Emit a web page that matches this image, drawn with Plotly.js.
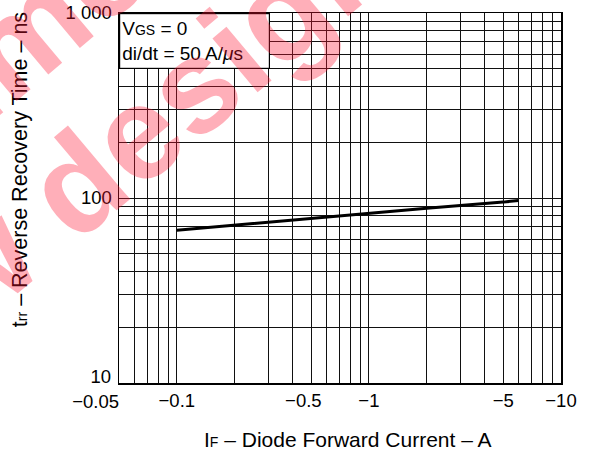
<!DOCTYPE html>
<html>
<head>
<meta charset="utf-8">
<script src="https://cdn.plot.ly/plotly-3.0.1.min.js"></script>
<style>html,body{margin:0;padding:0;background:#fff}#chart{width:589px;height:455px}</style>
</head>
<body>
<div id="chart"></div>
<script>
// Diode forward current (A) and reverse recovery time (ns)
const currentA = [-0.1, -0.2, -0.5, -1, -2, -5, -6];
const trrNs = [67, 71.5, 77.5, 82.5, 88, 95, 97];

// Axis grid values and tick labels
const xGridVals = [0.05,0.06,0.07,0.08,0.09,0.1,0.2,0.3,0.4,0.5,0.6,0.7,0.8,0.9,1,2,3,4,5,6,7,8,9,10];
const xTickLabels = {0.1:'\u22120.1', 0.5:'\u22120.5' + '\u00a0'.repeat(3), 1:'\u22121', 5:'\u22125', 10:'\u221210'};
const xFirstTickVal = [0.05];
const xFirstTickLabel = ['\u22120.05'];
const yGridVals = [10,20,30,40,50,60,70,80,90,100,200,300,400,500,600,700,800,900,1000];
const yTickLabels = {100:'100', 1000:'1 000'};
const yFirstTickVal = [10];
const yFirstTickLabel = ['10'];

const FONT = 'Liberation Sans, Arial, Helvetica, sans-serif';
const TICKFONT = {family: FONT, size: 18.5, color: '#000'};
const XRANGE = [Math.log10(0.05), 1];
const YRANGE = [1, 3];

const trace = {
  x: currentA.map(Math.abs),
  y: trrNs,
  type: 'scatter',
  mode: 'lines',
  line: {color: '#000', width: 3},
  hoverinfo: 'skip'
};
// empty trace so the overlaid label axes are drawn
const axisHolder = {x: [], y: [], xaxis: 'x2', yaxis: 'y2', type: 'scatter', mode: 'lines', hoverinfo: 'skip', showlegend: false};

const wmColor = 'rgba(255,20,50,0.34)';
const layout = {
  width: 589, height: 455,
  margin: {l: 119, r: 28, t: 13, b: 72, pad: 0},
  paper_bgcolor: '#fff', plot_bgcolor: '#fff',
  showlegend: false,
  font: {family: FONT, size: 18, color: '#000'},
  xaxis: {
    type: 'log', range: XRANGE,
    tickmode: 'array', tickvals: xGridVals,
    ticktext: xGridVals.map(v => xTickLabels[v] || ''),
    tickangle: 0, ticklabeloverflow: 'allow',
    showgrid: true, gridcolor: '#111', gridwidth: 1,
    showline: true, linecolor: '#000', linewidth: 1.5, mirror: true,
    ticks: '', ticklabelstandoff: 0,
    tickfont: TICKFONT,
    zeroline: false, fixedrange: true
  },
  xaxis2: {
    type: 'log', range: XRANGE, overlaying: 'x', anchor: 'y', side: 'bottom',
    tickmode: 'array', tickvals: xFirstTickVal, ticktext: xFirstTickLabel,
    ticklabelposition: 'outside left', tickangle: 0, ticklabeloverflow: 'allow',
    showgrid: false, showline: false, ticks: '', ticklabelstandoff: 5,
    tickfont: TICKFONT, zeroline: false, fixedrange: true
  },
  yaxis: {
    type: 'log', range: YRANGE,
    tickmode: 'array', tickvals: yGridVals,
    ticktext: yGridVals.map(v => yTickLabels[v] || ''),
    showgrid: true, gridcolor: '#111', gridwidth: 1,
    showline: true, linecolor: '#000', linewidth: 1.5, mirror: true,
    ticks: '', ticklabelstandoff: 2,
    tickfont: TICKFONT,
    zeroline: false, fixedrange: true
  },
  yaxis2: {
    type: 'log', range: YRANGE, overlaying: 'y', anchor: 'x', side: 'left',
    tickmode: 'array', tickvals: yFirstTickVal, ticktext: yFirstTickLabel,
    ticklabelposition: 'outside top', ticklabeloverflow: 'allow', ticklabelshift: 6,
    showgrid: false, showline: false, ticks: '', ticklabelstandoff: 7,
    tickfont: TICKFONT, zeroline: false, fixedrange: true
  },
  annotations: [
    {xref: 'paper', yref: 'paper', x: 0, y: 1, xanchor: 'left', yanchor: 'top',
     text: 'V<span style="font-size:14px">GS</span> = 0<br>di/dt = 50 A/<i>\u03bc</i>s', showarrow: false,
     align: 'left', valign: 'middle', width: 145, height: 50, borderpad: 2,
     bgcolor: '#fff', bordercolor: '#000', borderwidth: 1.2,
     font: {family: FONT, size: 19, color: '#000'}},
    {xref: 'paper', yref: 'paper', x: -0.224, y: 0.578, xanchor: 'center', yanchor: 'middle',
     text: 't<span style="font-size:14px">rr</span> \u2013 Reverse Recovery Time \u2013 ns', showarrow: false, textangle: -90,
     font: {family: FONT, size: 21.5, color: '#000'}},
    {xref: 'paper', yref: 'paper', x: 0.518, y: -0.153, xanchor: 'center', yanchor: 'middle',
     text: 'I<span style="font-size:14px">F</span> \u2013 Diode Forward Current \u2013 A', showarrow: false,
     font: {family: FONT, size: 21, color: '#000'}},
    {xref: 'paper', yref: 'paper', x: -0.032, y: 1.123, xanchor: 'center', yanchor: 'middle',
     text: '<b>recommended for</b>', showarrow: false, textangle: -40,
     font: {family: FONT, size: 133, color: wmColor}},
    {xref: 'paper', yref: 'paper', x: -0.053, y: 0.582, xanchor: 'center', yanchor: 'middle',
     text: '<b>new design</b>', showarrow: false, textangle: -40,
     font: {family: FONT, size: 133, color: wmColor}}
  ]
};

Plotly.newPlot('chart', [trace, axisHolder], layout, {staticPlot: true, displayModeBar: false});
</script>
</body>
</html>
